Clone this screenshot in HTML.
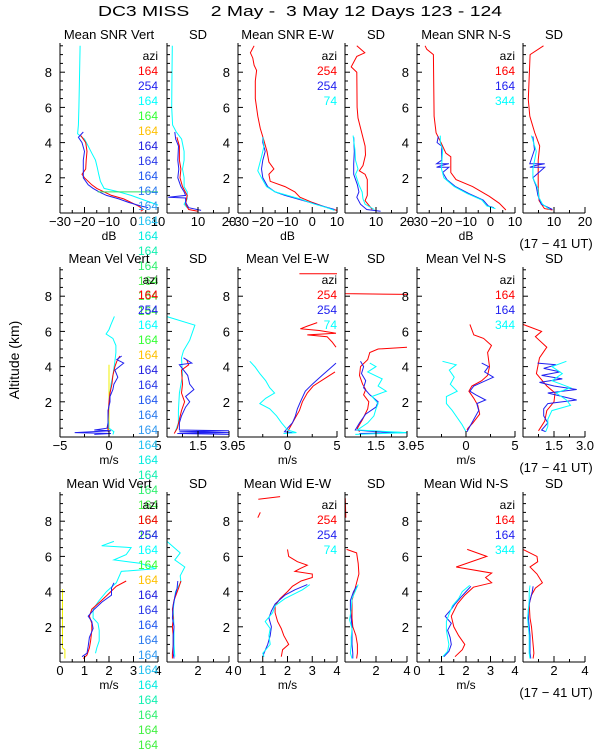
<!DOCTYPE html>
<html><head><meta charset="utf-8"><style>
html,body{margin:0;padding:0;background:#fff;}
svg{display:block;font-family:"Liberation Sans",sans-serif;}
</style></head><body>
<svg id="chart" width="600" height="750" viewBox="0 0 600 750" xmlns="http://www.w3.org/2000/svg">
<rect width="600" height="750" fill="#fff"/>
<text x="300" y="16" text-anchor="middle" font-size="15" textLength="404" lengthAdjust="spacingAndGlyphs">DC3 MISS&#160;&#160;&#160;&#160;2 May -&#160;&#160;3 May 12 Days 123 - 124</text>
<text x="19" y="360" text-anchor="middle" font-size="14" transform="rotate(-90 19 360)">Altitude (km)</text>
<g id="plots"></g>
</svg>
<script>
// ---------- data: [altitude km, value] ----------
const snrV_red=[[4.4,-21.5],[4.2,-20.5],[4.0,-19.5],[3.5,-19],[3,-19.3],[2.5,-19.5],[2.2,-21],[2,-20],[1.6,-17],[1.4,-15],[1.2,-12],[1,-9],[0.8,-4],[0.6,-1],[0.4,2],[0.2,4],[0.1,3]];
const snrV_blue=[[4.6,-20.5],[4.3,-22.5],[4,-21],[3.5,-20],[3,-20.5],[2.5,-20.5],[2,-20.5],[1.6,-18.5],[1.4,-16.5],[1.2,-14],[1,-11],[0.8,-6],[0.6,-2],[0.4,3],[0.3,6]];
const snrV_cyan=[[9.5,-21.8],[8,-22],[6,-22.3],[5,-22.5],[4.5,-22.8],[4.2,-20],[3.8,-18.5],[3.4,-17],[3,-15.5],[2.6,-14.8],[2.2,-14.2],[1.8,-13.5],[1.4,-12],[1.2,-6],[1.0,-1],[0.8,3],[0.6,7],[0.45,10]];
const snrV_green=[[1.2,-14.6],[1.2,10]];
const snrVsd_red=[[4.3,3.2],[3.8,4],[3,4],[2.5,4.5],[2,4.2],[1.5,5],[1,6.5],[0.5,6],[0.2,7],[0.1,10]];
const snrVsd_blue=[[4.6,2.5],[4.2,2.8],[3.8,3.7],[3,3.5],[2.5,3.8],[2,3.5],[1.5,4.5],[1.2,5.5],[1.0,6],[0.9,0.4],[0.85,6],[0.6,6],[0.3,7],[0.15,11]];
const snrVsd_cyan=[[9.5,1.7],[8,1.6],[6,1.5],[5,1.8],[4.6,3],[4.2,4.7],[3.5,5.5],[3,5.5],[2.5,5],[2,5.5],[1.5,5.5],[1.2,6.5],[0.8,6.5],[0.5,5.5],[0.3,6.5]];
const snrVsd_yellow=[[4.1,0],[0,0]];
const snrEW_red=[[9.5,-23.5],[9.1,-25],[8.8,-24],[8.4,-23.5],[8.1,-22.5],[7.5,-23],[6.5,-23],[5.5,-22],[4.8,-21],[4.2,-19.7],[3.5,-18.3],[2.9,-17.5],[2.5,-15.5],[2.2,-17.5],[1.8,-17],[1.5,-11],[1.2,-7],[0.9,-5],[0.6,0],[0.3,6],[0.15,10]];
const snrEW_blue=[[4.3,-20],[4,-20],[3.5,-19],[3,-20],[2.5,-20.5],[2,-20],[1.5,-18],[1.2,-15],[1,-11],[0.8,-6],[0.6,-1],[0.4,4],[0.2,9]];
const snrEW_cyan=[[4.3,-20],[3.8,-19.5],[3.2,-20.5],[2.4,-22],[2,-20.5],[1.5,-18.5],[1.2,-15],[1,-10],[0.8,-5],[0.5,1],[0.3,6],[0.15,9]];
const snrEWsd_red=[[9.5,3.8],[9.1,6.4],[8.9,3.8],[8.3,2],[8,3.8],[6,3.9],[5.4,4.2],[4.7,5.2],[3.8,6.5],[3.3,6.6],[2.7,5.8],[2.4,4.6],[2.2,6.5],[1.9,7.2],[1.0,7.2],[0.7,6.5],[0.2,8.8]];
const snrEWsd_blue=[[4.3,2.8],[3.5,3],[2.8,2.8],[2.2,2.8],[1.6,4],[1.2,4.5],[0.9,3.8],[0.5,5],[0.2,7],[0.1,11.5]];
const snrEWsd_cyan=[[4.4,2.6],[3.6,3.2],[3,3.4],[2.5,4.2],[2.2,3.4],[1.6,4.5],[1.2,5.5],[0.8,5.8],[0.5,6.5],[0.2,9.5]];
const snrNS_red=[[9.5,-26.7],[9.3,-26],[9.0,-23.3],[5.5,-23],[4.55,-22.2],[4.0,-20.2],[3.4,-18.2],[3.2,-16.2],[2.3,-16.2],[1.9,-14.1],[1.5,-7.3],[0.95,-0.5],[0.55,3.6],[0.17,6.3]];
const snrNS_blue=[[4.35,-21.3],[4.0,-21.8],[3.8,-19.9],[3.0,-19.9],[2.8,-22],[2.8,-17],[2.7,-20],[2.6,-22],[2.6,-17],[2.3,-19.5],[1.9,-17.8],[1.5,-14.3],[1.1,-8.8],[0.74,-3],[0.4,-0.9],[0.3,1.4]];
const snrNS_cyan=[[4.4,-20.5],[4.0,-20.5],[3.6,-19.5],[3.0,-19.8],[2.5,-20],[2.0,-19],[1.5,-14.8],[1.1,-9.5],[0.74,-3.5],[0.4,-1.5],[0.25,2]];
const snrNSsd_red=[[9.5,6.6],[9.0,2.3],[6.45,1.7],[5.5,2.2],[4.55,3.8],[3.8,5.4],[3.0,4.9],[1.5,4.9],[0.7,5.2],[0.25,6.9],[0.17,9.5]];
const snrNSsd_blue=[[4.35,3.2],[3.6,3.7],[2.8,2.2],[2.8,7],[2.7,4],[2.6,2.2],[2.6,7],[2.0,3.2],[1.5,4.3],[1.0,4.8],[0.5,5.9],[0.2,9.5]];
const snrNSsd_cyan=[[4.4,2.7],[3.5,4.3],[2.5,3.2],[2,3.2],[1.4,4.8],[0.9,5.1],[0.5,6.3],[0.2,8.6]];

const velV_red=[[4.6,1.1],[4.3,0.8],[4,0.6],[3.5,0.4],[3,0.3],[2.5,0.1],[2,0],[1,-0.1],[0.5,-0.1],[0.3,-0.1]];
const velV_blue=[[4.6,1.3],[4.4,0.8],[4.2,1.5],[3.8,0.6],[3.4,0.9],[3,0.5],[2.7,0.4],[2.3,0.1],[2,0.1],[1.5,-0.1],[0.8,-0.1],[0.5,-0.2],[0.4,-1.5],[0.35,0.2],[0.25,-3.5],[0.2,0.2],[0.15,-1.5]];
const velV_cyan=[[6.85,0.55],[6.4,0.2],[6.1,0.0],[5.85,-0.3],[5.6,0.4],[5.2,0.7],[4.8,0.7],[4.3,0.6],[3.5,0.4],[3,0.2],[2.5,0.1],[2,0],[1,-0.1],[0.5,0],[0.3,0.5],[0.15,0.4]];
const velV_yellow=[[4.1,0],[0.3,0]];
const velVsd_red=[[4.4,0.95],[4.1,1.05],[3.8,0.7],[3,0.75],[2.5,0.7],[2,0.85],[1.5,0.7],[1,0.6],[0.5,0.5],[0.2,0.35]];
const velVsd_blue=[[4.5,0.8],[4.2,1.2],[4.1,0.6],[3.5,1.0],[3,1.1],[2.7,1.3],[2.3,0.9],[2,1.1],[1.7,0.9],[1.2,0.7],[0.8,0.6],[0.4,0.6],[0.35,3.0],[0.3,0.6],[0.25,3.0],[0.2,0.5],[0.15,3.0]];
const velVsd_cyan=[[6.84,0],[6.35,1.35],[5.5,1.1],[4.9,0.8],[4.5,0.7],[3.5,0.75],[2.5,0.6],[1.5,0.55],[0.8,0.55],[0.3,0.4]];
const velVsd_yellow=[[4.1,0],[0.2,0]];
const velEW_redTop=[[9.27,1.2],[9.27,5]];
const velEW_redMid=[[6.5,3.0],[6.3,2.0],[6.15,1.3],[6.05,3.2],[5.9,4.9],[5.8,2.0],[5.7,4.0],[5.4,4.5],[5.1,4.9]];
const velEW_red=[[3.7,4.8],[3.3,3.7],[2.9,2.6],[2.5,2],[2.0,1.5],[1.5,1.2],[1.0,0.7],[0.5,0.2],[0.3,0.0]];
const velEW_blue=[[4.2,4.9],[3.9,4.3],[3.5,3.5],[3.0,2.5],[2.6,1.8],[2.0,1.3],[1.6,1.0],[1.2,0.8],[0.8,0.5],[0.5,0.0],[0.3,-0.3],[0.25,0.5]];
const velEW_cyan=[[4.3,-3.8],[4.0,-3.3],[3.6,-2.8],[3.2,-2.2],[2.8,-1.8],[2.5,-1.3],[2.2,-2.2],[1.9,-2.8],[1.6,-1.8],[1.2,-1.1],[0.8,-0.6],[0.4,0],[0.25,0.9],[0.2,-0.4]];
const velEWsd_redTop=[[9.4,0],[8.15,0],[8.1,3.0]];
const velEWsd_red=[[5.1,3.0],[5.0,1.6],[4.8,1.2],[4.4,1.1],[4.0,0.75],[3.5,0.7],[3.0,0.85],[2.7,1.0],[2.4,0.9],[2.0,1.15],[1.6,1.1],[1.0,0.85],[0.5,0.6],[0.3,0.7]];
const velEWsd_blue=[[4.3,0.75],[4,0.9],[3.6,0.8],[3.2,1.0],[2.8,0.9],[2.4,1.2],[2.0,1.6],[1.7,1.5],[1.3,1.0],[0.8,0.7],[0.4,0.5],[0.3,1.5],[0.25,3.0],[0.2,0.7]];
const velEWsd_cyan=[[4.2,1.2],[4.0,1.5],[3.7,1.1],[3.3,1.8],[2.9,1.6],[2.6,2.0],[2.3,1.3],[1.9,1.6],[1.6,1.5],[1.2,1.4],[0.8,1.1],[0.4,0.6],[0.25,3.0],[0.15,0.5]];
const velNS_red=[[6.4,0.4],[5.8,0.8],[5.6,1.8],[5.2,2.6],[4.8,2.2],[4.0,2.4],[3.5,2.2],[3.2,1.6],[2.9,0.6],[2.6,0.3],[2.2,0.8],[1.8,1.2],[1.3,1.4],[0.8,0.7],[0.5,0.2],[0.4,0.1]];
const velNS_blue=[[4.2,1.6],[4.0,2.3],[3.7,1.9],[3.4,2.8],[3.1,1.6],[2.9,0.8],[2.6,0.4],[2.4,1.0],[2.1,2.0],[1.9,1.1],[1.5,1.3],[1.0,0.8],[0.6,0.4],[0.3,0.1]];
const velNS_cyan=[[4.3,-2.4],[4.1,-1.0],[3.8,-1.7],[3.4,-1.2],[3.0,-1.6],[2.6,-0.9],[2.3,-2.0],[1.9,-2.0],[1.5,-1.4],[1.1,-0.9],[0.7,-0.4],[0.3,0.0]];
const velNSsd_red=[[6.4,0],[6.0,0.9],[5.7,0.6],[5.1,1.15],[4.5,0.8],[3.6,0.65],[2.9,1.15],[2.5,1.55],[2.0,1.5],[1.5,1.15],[0.9,1.05],[0.35,0.75]];
const velNSsd_blue=[[4.2,0.7],[4.1,1.6],[3.9,1.0],[3.7,1.8],[3.5,0.9],[3.3,1.9],[3.1,0.8],[2.9,1.5],[2.7,2.6],[2.5,1.2],[2.3,1.9],[2.1,2.6],[1.9,1.2],[1.6,1.0],[1.2,1.0],[0.8,1.2],[0.4,0.9],[0.3,1.1]];
const velNSsd_cyan=[[4.3,2.1],[4.0,1.4],[3.6,1.9],[3.2,1.4],[2.8,2.3],[2.5,1.6],[2.1,2.1],[1.8,2.3],[1.5,1.4],[1.0,1.2],[0.6,1.2],[0.3,1.1]];

const widV_red=[[4.6,2.7],[4.3,2.3],[3.9,2.0],[3.5,1.7],[3.0,1.3],[2.6,1.2],[2.2,1.3],[1.8,1.3],[1.2,1.25],[0.8,1.2],[0.4,1.1],[0.2,0.95]];
const widV_blue=[[4.5,2.2],[4.2,2.1],[3.8,2.1],[3.4,1.7],[3.0,1.4],[2.6,1.15],[2.3,1.3],[1.9,1.35],[1.4,1.2],[0.9,1.15],[0.5,1.1],[0.3,0.9]];
const widV_cyan=[[6.85,2.2],[6.6,1.7],[6.5,2.9],[6.1,2.7],[5.8,2.2],[5.6,3.3],[5.3,3.9],[5.15,2.5],[4.5,2.3],[4.0,1.9],[3.5,1.6],[3.0,1.35],[2.5,1.35],[2.2,1.55],[1.8,1.6],[1.2,1.6],[0.8,1.5],[0.5,1.45]];
const widV_yellow=[[4.15,0.1],[0.8,0.1],[0.7,0.2],[0.2,0.2]];
const widVsd_red=[[4.6,0.9],[4.2,0.75],[3.5,0.45],[3,0.35],[2.5,0.4],[2,0.35],[1.5,0.4],[1,0.4],[0.5,0.35],[0.2,0.35]];
const widVsd_blue=[[4.6,0.7],[4.2,0.65],[3.7,0.5],[3.2,0.4],[2.5,0.35],[2,0.45],[1.5,0.4],[1.0,0.4],[0.5,0.4],[0.2,0.45]];
const widVsd_cyan=[[6.85,0],[6.2,0.85],[5.8,0.5],[5.4,1.15],[4.9,0.85],[4.55,0.9],[4.0,0.55],[3.0,0.4],[2,0.45],[1,0.45],[0.3,0.5]];
const widVsd_yellow=[[4.1,0],[0.1,0]];
const widEW_redTop=[[9.4,1.7],[9.25,0.82]];
const widEW_redTop2=[[8.5,0.9],[8.2,0.8]];
const widEW_red=[[6.4,2.0],[6.0,2.05],[5.7,2.4],[5.5,2.8],[5.3,2.5],[5.15,2.3],[5.0,3.0],[4.8,3.0],[4.6,2.55],[4.3,2.2],[4.0,2.0],[3.6,1.7],[3.2,1.5],[2.8,1.5],[2.3,1.6],[1.9,1.75],[1.5,1.85],[1.0,2.05],[0.7,1.8],[0.3,1.75]];
const widEW_blue=[[4.4,2.8],[4.1,2.3],[3.8,1.9],[3.3,1.5],[2.9,1.35],[2.5,1.25],[2.0,1.35],[1.5,1.3],[1.0,1.2],[0.5,1.05],[0.3,1.0]];
const widEW_cyan=[[4.4,2.9],[4.1,2.6],[3.6,1.9],[3.2,1.5],[2.8,1.4],[2.3,1.1],[1.9,1.3],[1.5,1.25],[1.0,1.3],[0.5,1.0],[0.3,1.05]];
const widEWsd_redTop=[[9.3,0.02],[8.2,0.05]];
const widEWsd_red=[[6.4,0.1],[6.2,0.75],[5.6,0.85],[5.0,0.9],[4.5,0.75],[4.0,0.6],[3.5,0.45],[2.5,0.45],[2.0,0.5],[1.5,0.7],[1.0,0.8],[0.5,0.8],[0.2,0.75]];
const widEWsd_blue=[[4.3,0.75],[4.0,0.55],[3.5,0.35],[3.0,0.35],[2.5,0.4],[2.0,0.45],[1.5,0.45],[1.0,0.45],[0.5,0.5],[0.2,0.5]];
const widEWsd_cyan=[[4.4,0.85],[4.1,0.7],[3.6,0.45],[3.0,0.4],[2.4,0.3],[1.9,0.45],[1.4,0.4],[1.0,0.4],[0.5,0.35],[0.2,0.45]];
const widNS_red=[[6.4,2.05],[6.0,2.85],[5.4,1.6],[5.05,3.05],[4.8,2.8],[4.5,3.05],[4.25,2.3],[3.8,1.95],[3.3,1.65],[2.6,1.4],[2.0,1.5],[1.5,1.7],[1.0,1.95],[0.7,1.85],[0.3,1.55]];
const widNS_blue=[[4.3,2.2],[4.0,2.0],[3.7,1.8],[3.3,1.55],[3.0,1.4],[2.6,1.15],[2.2,1.4],[1.8,1.25],[1.4,1.35],[1.0,1.4],[0.6,1.3],[0.3,1.1]];
const widNS_cyan=[[4.35,2.15],[4.0,1.85],[3.6,1.7],[3.2,1.45],[2.7,1.3],[2.3,1.2],[1.8,1.2],[1.4,1.25],[1.0,1.3],[0.6,1.25],[0.3,1.05]];
const widNSsd_red=[[6.4,0],[6.0,0.9],[5.7,0.95],[5.4,0.45],[5.0,0.9],[4.5,1.25],[4.2,0.8],[3.8,0.55],[3.3,0.4],[2.5,0.45],[2.0,0.55],[1.5,0.6],[1.0,0.65],[0.5,0.7],[0.2,0.65]];
const widNSsd_blue=[[4.3,0.65],[4.0,0.6],[3.5,0.45],[3.0,0.35],[2.5,0.35],[2.0,0.4],[1.5,0.45],[1.0,0.45],[0.5,0.45],[0.2,0.5]];
const widNSsd_cyan=[[4.35,0.45],[4.0,0.4],[3.5,0.4],[3.0,0.35],[2.5,0.3],[2.0,0.35],[1.5,0.4],[1.0,0.4],[0.5,0.4],[0.2,0.45]];

// legend labels
const vertLegendLabels=["164","254","164","164","164","164","164","164","164","164","164","164","164","164","164","164","164"];
const ewLegendLabels=["254","254","74"];
const nsLegendLabels=["164","164","344"];
// axis ticks
const snrTicks=[-30,-20,-10,0,10], snrTickLabels=["\u221230","\u221220","\u221210","0","10"];
const snrSdTicks=[0,10,20], snrSdTickLabels=["","10","20"];
const velTicks=[-5,0,5], velTickLabels=["\u22125","0","5"];
const velSdTicks=[0,1.5,3], velSdTickLabels=["","1.5","3.0"];
const widTicks=[0,1,2,3,4], widTickLabels=["0","1","2","3","4"];
const widSdTicks=[0,2,4], widSdTickLabels=["","2","4"];
const altTicks=[2,4,6,8], altTickLabels=["2","4","6","8"];

// ---------- layout (not data) ----------
const RED="#ff0000", BLUE="#2020f0", CYAN="#00ffff", YEL="#f0f000", GRN="#30e060";
const vertLegendColors=[RED,BLUE,CYAN,"#33ff33","#ffc000","#2020e0","#2838e8","#2058f0","#2878f0","#3098f0","#20c0f0","#00ece0","#10f0b0","#30f070","#40f040","#40f040","#40f040"];
const cols=[[60,158],[167,229],[238,337],[345,407],[417,515],[523,585]];
const bottoms=[213,437,662];
const PXKM=17.6, AXH=170;
const NS="http://www.w3.org/2000/svg";
const g=document.getElementById('plots');
function el(tag,attrs,parent){const e=document.createElementNS(NS,tag);for(const k in attrs)e.setAttribute(k,attrs[k]);(parent||g).appendChild(e);return e;}
function txt(s,attrs,parent){const e=el('text',attrs,parent);e.textContent=s;return e;}

const rows=[
 {unit:"dB",titles:["Mean SNR Vert","SD","Mean SNR E-W","SD","Mean SNR N-S","SD"],
  mean:{r:[-30,10],t:snrTicks,l:snrTickLabels},sd:{r:[0,20],t:snrSdTicks,l:snrSdTickLabels},
  series:[
   [[snrV_cyan,CYAN],[snrV_red,RED],[snrV_blue,BLUE],[snrV_green,GRN]],
   [[snrVsd_yellow,YEL],[snrVsd_cyan,CYAN],[snrVsd_red,RED],[snrVsd_blue,BLUE]],
   [[snrEW_red,RED],[snrEW_blue,BLUE],[snrEW_cyan,CYAN]],
   [[snrEWsd_red,RED],[snrEWsd_blue,BLUE],[snrEWsd_cyan,CYAN]],
   [[snrNS_red,RED],[snrNS_blue,BLUE],[snrNS_cyan,CYAN]],
   [[snrNSsd_red,RED],[snrNSsd_blue,BLUE],[snrNSsd_cyan,CYAN]]]},
 {unit:"m/s",titles:["Mean Vel Vert","SD","Mean Vel E-W","SD","Mean Vel N-S","SD"],
  mean:{r:[-5,5],t:velTicks,l:velTickLabels},sd:{r:[0,3],t:velSdTicks,l:velSdTickLabels},
  series:[
   [[velV_yellow,YEL],[velV_cyan,CYAN],[velV_red,RED],[velV_blue,BLUE]],
   [[velVsd_yellow,YEL],[velVsd_cyan,CYAN],[velVsd_red,RED],[velVsd_blue,BLUE]],
   [[velEW_redTop,RED],[velEW_redMid,RED],[velEW_red,RED],[velEW_blue,BLUE],[velEW_cyan,CYAN]],
   [[velEWsd_redTop,RED],[velEWsd_red,RED],[velEWsd_blue,BLUE],[velEWsd_cyan,CYAN]],
   [[velNS_red,RED],[velNS_blue,BLUE],[velNS_cyan,CYAN]],
   [[velNSsd_red,RED],[velNSsd_blue,BLUE],[velNSsd_cyan,CYAN]]]},
 {unit:"m/s",titles:["Mean Wid Vert","SD","Mean Wid E-W","SD","Mean Wid N-S","SD"],
  mean:{r:[0,4],t:widTicks,l:widTickLabels},sd:{r:[0,4],t:widSdTicks,l:widSdTickLabels},
  series:[
   [[widV_yellow,YEL],[widV_cyan,CYAN],[widV_red,RED],[widV_blue,BLUE]],
   [[widVsd_yellow,YEL],[widVsd_cyan,CYAN],[widVsd_red,RED],[widVsd_blue,BLUE]],
   [[widEW_redTop,RED],[widEW_redTop2,RED],[widEW_red,RED],[widEW_blue,BLUE],[widEW_cyan,CYAN]],
   [[widEWsd_redTop,RED],[widEWsd_red,RED],[widEWsd_blue,BLUE],[widEWsd_cyan,CYAN]],
   [[widNS_red,RED],[widNS_blue,BLUE],[widNS_cyan,CYAN]],
   [[widNSsd_red,RED],[widNSsd_blue,BLUE],[widNSsd_cyan,CYAN]]]}
];

rows.forEach((row,ri)=>{
 const bot=bottoms[ri], top=bot-AXH;
 const yOf=a=>bot-a*PXKM;
 cols.forEach((c,ci)=>{
  const isSD=ci%2===1, ax=isSD?row.sd:row.mean;
  const [x0,x1]=c, [vmin,vmax]=ax.r;
  const xOf=v=>x0+(v-vmin)/(vmax-vmin)*(x1-x0);
  const pg=el('g',{});
  
  
  row.series[ci].forEach(([data,color],si)=>{
   const pts=data.map(d=>xOf(d[1]).toFixed(1)+','+yOf(d[0]).toFixed(1)).join(' ');
   const pl=el('polyline',{points:pts,fill:'none',stroke:color,'stroke-width':1},pg);
   
   
  });
  const ya=el('line',{x1:x0,y1:top,x2:x0,y2:bot,stroke:'#000','stroke-width':1},pg);
  
  
  const xa=el('line',{x1:x0,y1:bot,x2:x1,y2:bot,stroke:'#000','stroke-width':1},pg);
  
  
  for(let a=0.5;a<9.7;a+=0.5){
   const major=Math.abs(a%2)<1e-6;
   el('line',{x1:x0,y1:yOf(a),x2:x0+(major?5:3),y2:yOf(a),stroke:'#000'},pg);
  }
  if(!isSD){
   altTicks.forEach((a,i)=>{
    const t=txt(altTickLabels[i],{x:x0-8,y:yOf(a)+5,'text-anchor':'end','font-size':13},pg);
    
    
   });
  }
  ax.t.forEach((v,i)=>{
   el('line',{x1:xOf(v),y1:bot,x2:xOf(v),y2:bot-6,stroke:'#000'},pg);
   if(i<ax.t.length-1){const m=(v+ax.t[i+1])/2;el('line',{x1:xOf(m),y1:bot,x2:xOf(m),y2:bot-3,stroke:'#000'},pg);}
   if(ax.l[i]){
    const t=txt(ax.l[i],{x:xOf(v),y:bot+13,'text-anchor':'middle','font-size':13},pg);
    
    
   }
  });
  const tt=txt(row.titles[ci],{x:(x0+x1)/2,y:bot-174,'text-anchor':'middle','font-size':13},pg);
  
  
  if(!isSD){
   const u=txt(row.unit,{x:(x0+x1)/2,y:bot+27,'text-anchor':'middle','font-size':12},pg);
   
   
   const labels=ci===0?vertLegendLabels:(ci===2?ewLegendLabels:nsLegendLabels);
   const lt=txt('azi',{x:x1,y:top+17,'text-anchor':'end','font-size':12},pg);
   
   
   labels.forEach((s,k)=>{
    const color=ci===0?vertLegendColors[k]:[RED,BLUE,CYAN][k];
    const le=txt(s,{x:x1,y:top+17+15*(k+1),'text-anchor':'end','font-size':12,fill:color},pg);
    
    
   });
  }
 });
 const ut=txt('(17 \u2212 41 UT)',{x:556,y:bot+35,'text-anchor':'middle','font-size':13});
 
 
});
</script>
</body></html>
